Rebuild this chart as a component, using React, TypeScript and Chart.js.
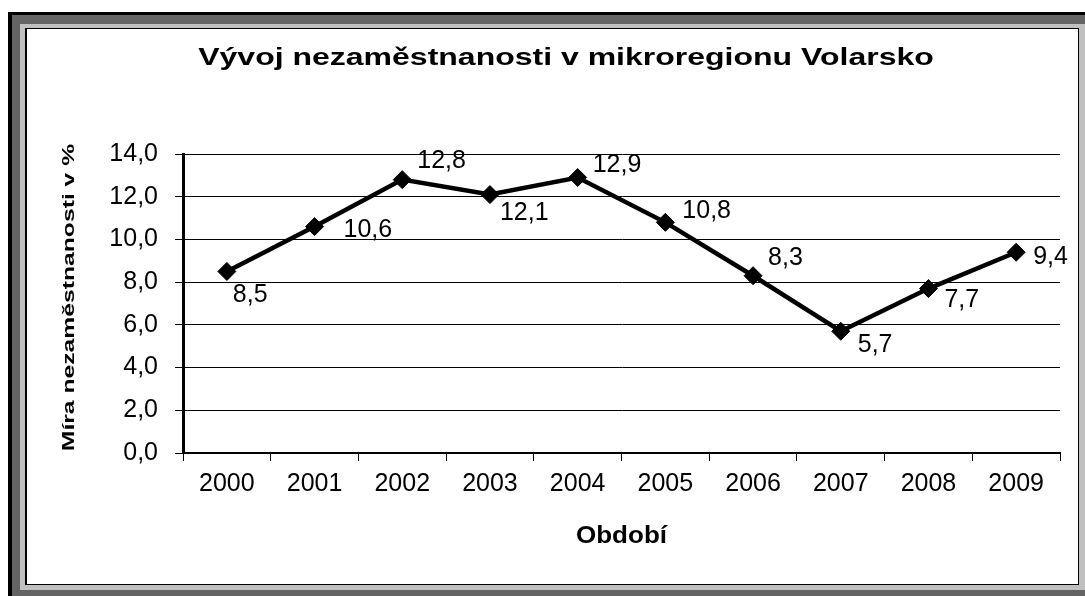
import React, { useEffect, useRef } from 'react';
import { Chart, registerables } from 'chart.js';

Chart.register(...registerables);

const years = ['2000', '2001', '2002', '2003', '2004', '2005', '2006', '2007', '2008', '2009'];
const unemployment = [8.5, 10.6, 12.8, 12.1, 12.9, 10.8, 8.3, 5.7, 7.7, 9.4];
const yMin = 0;
const yMax = 14;
const yStep = 2;

const chartTitle = 'Vývoj nezaměstnanosti v mikroregionu Volarsko';
const yAxisTitle = 'Míra nezaměstnanosti v %';
const xAxisTitle = 'Období';

// value-label placement relative to each point: [dx, dy to baseline]
const labelOffsets: [number, number][] = [
  [6, 31], [29, 10], [15, -12], [10, 25], [15, -5],
  [17, -4], [15, -11], [17, 21], [16, 18], [17, 12],
];

const FONT = '"Liberation Sans", Arial, Helvetica, sans-serif';

const fmt = (v: number) => v.toFixed(1).replace('.', ',');

function drawText(
  ctx: CanvasRenderingContext2D,
  text: string,
  x: number,
  y: number,
  font: string,
  align: CanvasTextAlign,
  squish = 1,
  rotate = false
) {
  ctx.save();
  ctx.translate(x, y);
  if (rotate) ctx.rotate(-Math.PI / 2);
  ctx.scale(1, squish);
  ctx.font = font;
  ctx.fillStyle = '#000';
  ctx.textAlign = align;
  ctx.textBaseline = 'alphabetic';
  ctx.fillText(text, 0, 0);
  ctx.restore();
}

const framePlugin = {
  id: 'frame',
  beforeDraw(chart: any) {
    const ctx = chart.ctx as CanvasRenderingContext2D;
    const W = chart.width;
    const H = chart.height;
    ctx.save();
    ctx.fillStyle = '#ffffff';
    ctx.fillRect(0, 0, W, H);
    ctx.fillStyle = '#000000';
    ctx.fillRect(8, 12, W - 8, H - 12);
    ctx.fillStyle = '#646464';
    ctx.fillRect(12, 15, W - 12, H - 15);
    ctx.fillStyle = '#c0c0c0';
    ctx.fillRect(20, 24, W - 20, 590 - 24);
    ctx.fillStyle = '#000000';
    ctx.fillRect(25, 28, 1079 - 25, 585 - 28);
    ctx.fillStyle = '#ffffff';
    ctx.fillRect(27, 29, 1078 - 27, 584 - 29);
    ctx.restore();
  },
  afterDraw(chart: any) {
    const ctx = chart.ctx as CanvasRenderingContext2D;
    const area = chart.chartArea;
    drawText(ctx, chartTitle, 566, 65, `bold 32px ${FONT}`, 'center', 0.72);
    drawText(ctx, yAxisTitle, 73.5, (area.top + area.bottom) / 2 - 6, `bold 24.7px ${FONT}`, 'center', 0.7, true);
    drawText(ctx, xAxisTitle, (area.left + area.right) / 2, 543, `bold 26px ${FONT}`, 'center', 0.92);
  },
};

const valueLabelPlugin = {
  id: 'valueLabels',
  afterDatasetsDraw(chart: any) {
    const ctx = chart.ctx as CanvasRenderingContext2D;
    const meta = chart.getDatasetMeta(0);
    meta.data.forEach((pt: any, i: number) => {
      const [dx, dy] = labelOffsets[i];
      drawText(ctx, fmt(unemployment[i]), pt.x + dx, pt.y + dy, `25px ${FONT}`, 'left');
    });
  },
};

export default function App() {
  const ref = useRef<HTMLCanvasElement | null>(null);

  useEffect(() => {
    if (!ref.current) return;
    const chart = new Chart(ref.current, {
      type: 'line',
      data: {
        labels: years,
        datasets: [
          {
            data: unemployment,
            borderColor: '#000',
            borderWidth: 4.5,
            backgroundColor: '#000',
            pointStyle: 'rectRot',
            pointRadius: 9,
            pointBorderWidth: 1,
            pointBackgroundColor: '#000',
            pointBorderColor: '#000',
            tension: 0,
            fill: false,
          },
        ],
      },
      options: {
        responsive: false,
        animation: false,
        devicePixelRatio: 1,
        layout: { padding: { left: 0, top: 154, right: 25, bottom: 0 } },
        plugins: {
          legend: { display: false },
          title: { display: false },
          tooltip: { enabled: false },
        },
        scales: {
          x: {
            type: 'category',
            offset: true,
            afterFit: (s: any) => { s.height = 596 - 453; },
            grid: {
              display: true,
              drawOnChartArea: false,
              drawTicks: true,
              tickLength: 8,
              color: '#000',
              lineWidth: 1,
              offset: true,
            },
            border: { display: true, color: '#000', width: 2 },
            ticks: {
              color: '#000',
              font: { family: FONT, size: 25 },
              padding: 8,
              autoSkip: false,
              maxRotation: 0,
              minRotation: 0,
            },
          },
          y: {
            min: yMin,
            max: yMax,
            afterFit: (s: any) => { s.width = 183; },
            grid: {
              color: '#000',
              lineWidth: 1,
              drawTicks: true,
              tickLength: 8,
            },
            border: { display: true, color: '#000', width: 3 },
            ticks: {
              stepSize: yStep,
              color: '#000',
              font: { family: FONT, size: 25 },
              padding: 17,
              callback: (v: any) => fmt(Number(v)),
            },
          },
        },
      },
      plugins: [framePlugin, valueLabelPlugin],
    });
    return () => chart.destroy();
  }, []);

  return (
    <div style={{ position: 'fixed', left: 0, top: 0, width: 1085, height: 596 }}>
      <canvas ref={ref} width={1085} height={596} style={{ display: 'block', width: 1085, height: 596 }} />
    </div>
  );
}
